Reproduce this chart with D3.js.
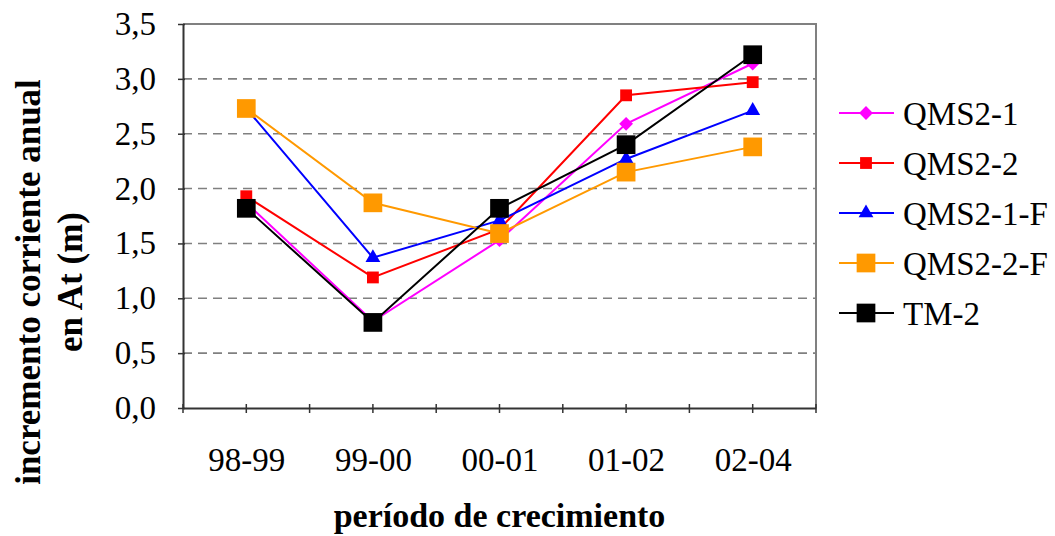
<!DOCTYPE html>
<html>
<head>
<meta charset="utf-8">
<script src="https://cdn.jsdelivr.net/npm/d3@7"></script>
<style>
  body { margin: 0; background: #fff; }
  svg text { font-family: "Liberation Serif", Tinos, "Times New Roman", "DejaVu Serif Condensed", "DejaVu Serif", serif; }
</style>
</head>
<body>
<svg width="1055" height="536"></svg>
<script>
// data
var periods = ["98-99", "99-00", "00-01", "01-02", "02-04"];
var yTicks = [0, 0.5, 1, 1.5, 2, 2.5, 3, 3.5];
var seriesNames = ["QMS2-1", "QMS2-2", "QMS2-1-F", "QMS2-2-F", "TM-2"];
var qms21  = [1.87, 0.79, 1.53, 2.59, 3.14];
var qms22  = [1.93, 1.19, 1.63, 2.85, 2.97];
var qms21f = [2.73, 1.37, 1.71, 2.27, 2.71];
var qms22f = [2.73, 1.87, 1.59, 2.15, 2.38];
var tm2    = [1.82, 0.78, 1.82, 2.40, 3.22];

// rot: diamond = square turned 45deg
var styles = [
	{ color: "#ff00ff", symbol: d3.symbolSquare, size: 95, rot: 45 },
	{ color: "#ff0000", symbol: d3.symbolSquare, size: 140, rot: 0 },
	{ color: "#0000ff", symbol: d3.symbolTriangle, size: 95, rot: 0 },
	{ color: "#ff9900", symbol: d3.symbolSquare, size: 350, rot: 0 },
	{ color: "#000000", symbol: d3.symbolSquare, size: 350, rot: 0 }
];
var allValues = [qms21, qms22, qms21f, qms22f, tm2];

var plot = { left: 183, right: 816, top: 24, bottom: 408 };

var svg = d3.select("svg");

var x = d3.scalePoint().domain(periods).range([plot.left, plot.right]).padding(0.5);
var xBand = d3.scaleBand().domain(periods).range([plot.left, plot.right]);
var y = d3.scaleLinear().domain([0, 3.5]).range([plot.bottom, plot.top]);

// dashed gridlines
svg.append("g").selectAll("line")
	.data(yTicks.filter(function(t){ return t > 0 && t < 3.5; }))
	.enter().append("line")
	.attr("x1", plot.left).attr("x2", plot.right)
	.attr("y1", function(d){ return y(d); }).attr("y2", function(d){ return y(d); })
	.attr("stroke", "#808080").attr("stroke-width", 1.6)
	.attr("stroke-dasharray", "9,6");

// plot border (top / right)
svg.append("path")
	.attr("d", "M" + plot.left + "," + y(3.5) + "H" + plot.right + "V" + plot.bottom)
	.attr("fill", "none").attr("stroke", "#808080").attr("stroke-width", 2);

// y axis
var yAxis = d3.axisLeft(y).tickValues(yTicks).tickSizeInner(5).tickSizeOuter(0).tickPadding(22)
	.tickFormat(function(d){ return d3.format(".1f")(d).replace(".", ","); });
var gy = svg.append("g").attr("transform", "translate(" + plot.left + ",0)").call(yAxis);
gy.attr("font-family", null);
gy.select(".domain").attr("stroke", "#333").attr("stroke-width", 2);
gy.selectAll(".tick line").attr("stroke", "#333").attr("stroke-width", 1.5).attr("x2", -5).attr("x1", 2);
gy.selectAll(".tick text").attr("font-size", 33).attr("fill", "#000");

// x axis
var xAxis = d3.axisBottom(x).tickSize(0).tickPadding(40);
var gx = svg.append("g").attr("transform", "translate(0," + plot.bottom + ")").call(xAxis);
gx.attr("font-family", null);
gx.select(".domain").attr("stroke", "#333").attr("stroke-width", 2);
gx.selectAll(".tick text").attr("font-size", 33).attr("fill", "#000");

// cross tick marks at category centres and boundaries
var xTickPos = periods.map(function(p){ return x(p); })
	.concat(periods.map(function(p){ return xBand(p); }))
	.concat([plot.right]);
gx.append("g").selectAll("line").data(xTickPos).enter().append("line")
	.attr("x1", function(d){ return d; }).attr("x2", function(d){ return d; })
	.attr("y1", -4).attr("y2", 5)
	.attr("stroke", "#333").attr("stroke-width", 1.5);

// series lines and markers
var line = d3.line()
	.x(function(d, i){ return x(periods[i]); })
	.y(function(d){ return y(d); });

allValues.forEach(function(vals, s){
	var st = styles[s];
	var g = svg.append("g").attr("class", "series");
	g.append("path").datum(vals)
		.attr("d", line)
		.attr("fill", "none").attr("stroke", st.color).attr("stroke-width", 2);
	g.selectAll("path.mark").data(vals).enter().append("path")
		.attr("class", "mark")
		.attr("d", d3.symbol().type(st.symbol).size(st.size))
		.attr("transform", function(d, i){
			return "translate(" + x(periods[i]) + "," + y(d) + ") rotate(" + st.rot + ")";
		})
		.attr("fill", st.color);
});

// legend
var legend = svg.append("g").attr("transform", "translate(839,113)");
var items = legend.selectAll("g").data(seriesNames).enter().append("g")
	.attr("transform", function(d, i){ return "translate(0," + (i * 50) + ")"; });
items.append("line")
	.attr("x1", 0).attr("x2", 55).attr("y1", 0).attr("y2", 0)
	.attr("stroke", function(d, i){ return styles[i].color; }).attr("stroke-width", 2);
items.append("path")
	.attr("d", function(d, i){ return d3.symbol().type(styles[i].symbol).size(styles[i].size)(); })
	.attr("transform", function(d, i){ return "translate(27,0) rotate(" + styles[i].rot + ")"; })
	.attr("fill", function(d, i){ return styles[i].color; });
items.append("text")
	.attr("x", 64).attr("y", 0).attr("dy", "0.35em")
	.attr("font-size", 33)
	.text(function(d){ return d; });

// axis titles
svg.append("text")
	.attr("x", (plot.left + plot.right) / 2).attr("y", 527)
	.attr("text-anchor", "middle").attr("font-size", 34).attr("font-weight", "bold")
	.text("período de crecimiento");

var yt = svg.append("text")
	.attr("transform", "translate(40,282) rotate(-90)")
	.attr("text-anchor", "middle").attr("font-size", 35).attr("font-weight", "bold");
yt.append("tspan").attr("x", 0).attr("y", 0).text("incremento corriente anual");
yt.append("tspan").attr("x", 0).attr("y", 42).text("en At (m)");
</script>
</body>
</html>
